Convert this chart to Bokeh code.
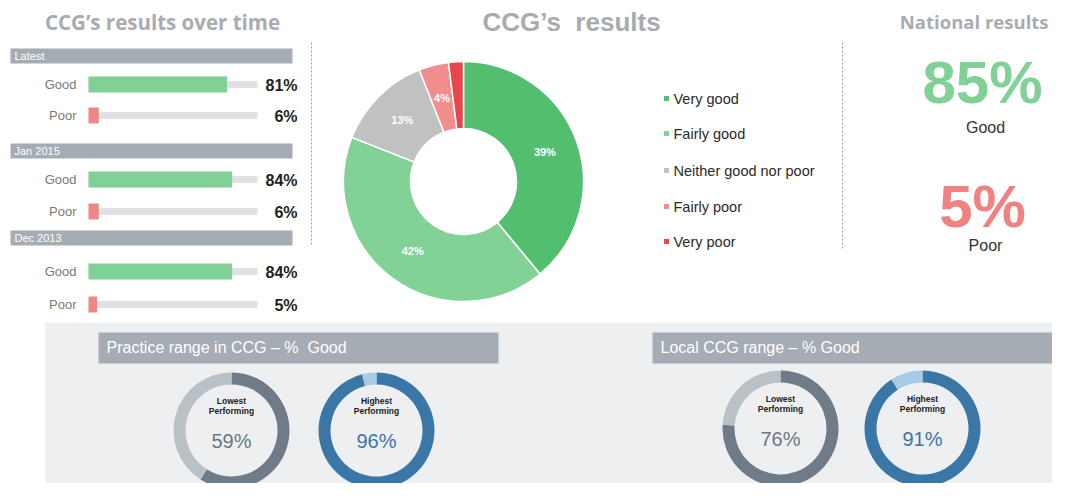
import numpy as np
from bokeh.plotting import figure
from bokeh.models import Range1d
from bokeh.core.properties import value
from bokeh.embed import file_html
from bokeh.resources import INLINE

# ---------------- data ----------------
periods = ["Latest", "Jan 2015", "Dec 2013"]
good_pct = [81, 84, 84]
poor_pct = [6, 6, 5]

ccg_categories = ["Very good", "Fairly good", "Neither good nor poor", "Fairly poor", "Very poor"]
ccg_pct = [39, 42, 13, 4, 2]
ccg_colors = ["#52bf6f", "#82d197", "#c1c1c1", "#f28d8d", "#e8454d"]

national_labels = ["Good", "Poor"]
national_pct = [85, 5]

range_titles = ["Practice range in CCG \u2013 %\u00a0 Good", "Local CCG range \u2013 % Good"]
range_lowest = [59, 76]
range_highest = [96, 91]

# ---------------- layout ----------------
W, H = 1052, 483
FONT = value("Liberation Sans")
HFONT = value("Open Sans")


def X(rx):
    return rx


def Y(ry):
    return H - ry


p = figure(width=W, height=H, x_range=Range1d(0, W), y_range=Range1d(0, H),
           output_backend="svg", toolbar_location=None, min_border=0,
           x_axis_type=None, y_axis_type=None)
p.grid.visible = False
p.outline_line_color = None
p.background_fill_color = "white"
p.border_fill_color = "white"


def txt(x, y, s, size, color, align="left", style="normal", baseline="middle", font=FONT):
    p.text(x=[X(x)], y=[Y(y)], text=[s], text_font=font, text_font_size=f"{size}px",
           text_color=color, text_align=align, text_baseline=baseline,
           text_font_style=style)


# titles
txt(162, 21, "CCG\u2019s results over time", 20.5, "#a8acb0", "center", "bold", font=HFONT)
txt(571, 21, "CCG\u2019s\u00a0 results", 26, "#a8acb0", "center", "bold")
txt(1048, 21, "National results", 18.5, "#a8acb0", "right", "bold", font=HFONT)

# dashed separators
p.line(x=[X(311), X(311)], y=[Y(42), Y(246)], line_color="#9a9a9a", line_dash="2 2", line_width=1)
p.line(x=[X(842), X(842)], y=[Y(42), Y(250)], line_color="#9a9a9a", line_dash="2 2", line_width=1)

# ---------------- results over time ----------------
header_top = [48, 143, 230]
good_y = [84, 179, 271]
poor_y = [115, 211, 304]
bar_x0, track_x1, scale = 88, 257, 1.71

for i, per in enumerate(periods):
    ht = header_top[i]
    p.quad(left=X(10), right=X(292), top=Y(ht), bottom=Y(ht + 15), color="#a6acb4", line_color=None)
    txt(14, ht + 7.5, per, 11, "white")
    for yy, v, col, lab in [(good_y[i], good_pct[i], "#7fd196", "Good"),
                             (poor_y[i], poor_pct[i], "#f08787", "Poor")]:
        txt(76, yy, lab, 13, "#7a7a7a", "right")
        p.quad(left=X(bar_x0), right=X(track_x1), top=Y(yy - 3.5), bottom=Y(yy + 3.5),
               color="#dfe1e4", line_color=None)
        p.quad(left=X(bar_x0), right=X(bar_x0 + v * scale), top=Y(yy - 8), bottom=Y(yy + 8),
               color=col, line_color=None)
        txt(297, yy + 1, f"{v}%", 16, "#222222", "right", "bold")

# ---------------- donut ----------------
cx, cy, r_in, r_out = 463, 181, 53, 120
cum = np.concatenate([[0], np.cumsum(ccg_pct)]) / 100.0
starts = np.pi / 2 - 2 * np.pi * cum[:-1]
ends = np.pi / 2 - 2 * np.pi * cum[1:]
p.annular_wedge(x=[X(cx)] * len(ccg_pct), y=[Y(cy)] * len(ccg_pct), inner_radius=r_in,
                outer_radius=r_out, start_angle=list(starts), end_angle=list(ends),
                direction="clock", fill_color=ccg_colors, line_color="white", line_width=1.5)
r_mid = (r_in + r_out) / 2
for i, v in enumerate(ccg_pct):
    if v >= 3:
        a = 2 * np.pi * (cum[i] + cum[i + 1]) / 2
        txt(cx + r_mid * np.sin(a), cy - r_mid * np.cos(a), f"{v}%", 11, "white", "center", "bold")

# legend
leg_y = [98, 133, 170, 206, 241]
for i, cat in enumerate(ccg_categories):
    p.rect(x=[X(666)], y=[Y(leg_y[i])], width=5, height=5, color=ccg_colors[i], line_color=None)
    txt(673, leg_y[i], cat, 14.5, "#2a2a2a")

# ---------------- national ----------------
txt(982, 82, f"{national_pct[0]}%", 60, "#7fd196", "center", "bold")
txt(985, 127, national_labels[0], 16, "#333333", "center")
txt(982, 206, f"{national_pct[1]}%", 60, "#f08282", "center", "bold")
txt(985, 245, national_labels[1], 16, "#333333", "center")

# ---------------- bottom panel ----------------
p.quad(left=X(45), right=W, bottom=0, top=Y(322), color="#eeeff1", line_color=None)
header_x = [(98, 498), (652, 1052)]
ring_centers = [((231, 430), (376, 430)), ((780, 428), (922, 428))]


def ring(cxr, cyr, pct, dark, light):
    a0 = np.pi / 2
    a1 = np.pi / 2 - 2 * np.pi * pct / 100.0
    p.annular_wedge(x=[X(cxr)], y=[Y(cyr)], inner_radius=46, outer_radius=58,
                    start_angle=a0, end_angle=a1, direction="clock", color=dark, line_color=None)
    p.annular_wedge(x=[X(cxr)], y=[Y(cyr)], inner_radius=46, outer_radius=58,
                    start_angle=a1, end_angle=a0, direction="clock", color=light, line_color=None)


for k in range(2):
    hx0, hx1 = header_x[k]
    p.quad(left=X(hx0), right=X(hx1), top=Y(332), bottom=Y(363), color="#a6acb4", line_color=None)
    txt(hx0 + 8, 347, range_titles[k], 16, "white")
    (lx, ly), (hx, hy) = ring_centers[k]
    ring(lx, ly, range_lowest[k], "#6f7c87", "#b9c0c6")
    ring(hx, hy, range_highest[k], "#3a77a7", "#a8cae4")
    txt(lx, ly - 30, "Lowest", 8.5, "#222222", "center", "bold")
    txt(lx, ly - 20, "Performing", 8.5, "#222222", "center", "bold")
    txt(lx, ly + 10, f"{range_lowest[k]}%", 20, "#6b7884", "center")
    txt(hx, hy - 30, "Highest", 8.5, "#222222", "center", "bold")
    txt(hx, hy - 20, "Performing", 8.5, "#222222", "center", "bold")
    txt(hx, hy + 10, f"{range_highest[k]}%", 20, "#3a77a7", "center")

open("out.html", "w").write(file_html(p, INLINE))
